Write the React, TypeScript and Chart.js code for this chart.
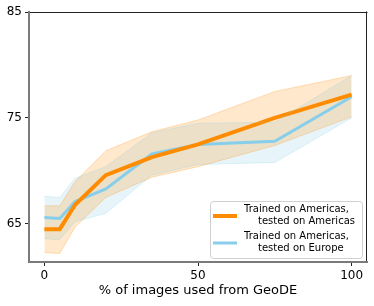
import React, { useEffect, useRef } from "react";
import { Chart, registerables } from "chart.js";

Chart.register(...registerables);

const xs = [0, 5, 10, 20, 35, 50, 75, 100];
const orangeMean = [64.5, 64.5, 66.8, 69.6, 71.3, 72.5, 75.0, 77.2];
const orangeUpper = [66.7, 66.7, 69.0, 71.9, 73.7, 74.8, 77.5, 79.0];
const orangeLower = [62.3, 62.2, 64.7, 67.5, 69.4, 70.4, 72.4, 75.1];
const blueMean = [65.6, 65.5, 67.1, 68.3, 71.6, 72.5, 72.8, 77.0];
const blueUpper = [67.6, 67.5, 69.3, 70.4, 73.6, 74.5, 74.6, 79.0];
const blueLower = [63.6, 63.5, 65.2, 66.0, 69.6, 70.6, 70.8, 75.0];
const xTicks = [0, 50, 100];
const yTicks = [65, 75, 85];
const legendLabels = [
  ["Trained on Americas,", "tested on Americas"],
  ["Trained on Americas,", "tested on Europe"],
];

const ORANGE = "#ff8c00";
const BLUE = "#87ceeb";
const FONT = "DejaVu Sans";

const pts = (ys: number[]) => xs.map((x, i) => ({ x, y: ys[i] }));

export default function App() {
  const ref = useRef<HTMLCanvasElement>(null);
  useEffect(() => {
    document.body.style.margin = "0";
    const spines = {
      id: "spines",
      afterDraw(chart: any) {
        const { ctx, chartArea: a } = chart;
        ctx.save();
        ctx.lineCap = "square";
        ctx.strokeStyle = "#222";
        ctx.lineWidth = 1;
        ctx.beginPath();
        ctx.moveTo(a.left, a.top + 0.5);
        ctx.lineTo(a.right, a.top + 0.5);
        ctx.moveTo(a.right - 0.5, a.top);
        ctx.lineTo(a.right - 0.5, a.bottom);
        ctx.stroke();
        ctx.strokeStyle = "#7a7a7a";
        ctx.lineWidth = 2;
        ctx.beginPath();
        ctx.moveTo(a.left, a.top);
        ctx.lineTo(a.left, a.bottom);
        ctx.lineTo(a.right, a.bottom);
        ctx.stroke();
        // legend
        const lx = 210, ly = 201, lw = 152, lh = 57;
        ctx.fillStyle = "rgba(255,255,255,0.85)";
        ctx.strokeStyle = "#d0d0d0";
        ctx.lineWidth = 1;
        ctx.beginPath();
        (ctx as any).roundRect(lx + 0.5, ly + 0.5, lw, lh, 3);
        ctx.fill();
        ctx.stroke();
        const entries = [
          { color: ORANGE, width: 4, lineY: 216, t1: [244, 209.5], t2: [258, 221.5] },
          { color: BLUE, width: 3, lineY: 243, t1: [244, 236.5], t2: [258, 248.5] },
        ];
        ctx.font = `10px ${FONT}`;
        ctx.textBaseline = "middle";
        ctx.textAlign = "left";
        entries.forEach((e, i) => {
          ctx.strokeStyle = e.color;
          ctx.lineWidth = e.width;
          ctx.lineCap = "butt";
          ctx.beginPath();
          ctx.moveTo(213, e.lineY);
          ctx.lineTo(237, e.lineY);
          ctx.stroke();
          ctx.fillStyle = "#000";
          ctx.fillText(legendLabels[i][0], e.t1[0], e.t1[1]);
          ctx.fillText(legendLabels[i][1], e.t2[0], e.t2[1]);
        });
        ctx.restore();
      },
    };
    const chart = new Chart(ref.current!, {
      type: "line",
      data: {
        datasets: [
          { data: pts(orangeUpper), borderColor: "rgba(255,140,0,0.25)", borderWidth: 1, pointRadius: 0, fill: false, tension: 0 },
          { data: pts(orangeLower), borderColor: "rgba(255,140,0,0.25)", borderWidth: 1, pointRadius: 0, fill: "-1", backgroundColor: "rgba(255,140,0,0.2)", tension: 0 },
          { data: pts(blueUpper), borderColor: "rgba(135,206,235,0.25)", borderWidth: 1, pointRadius: 0, fill: false, tension: 0 },
          { data: pts(blueLower), borderColor: "rgba(135,206,235,0.25)", borderWidth: 1, pointRadius: 0, fill: "-1", backgroundColor: "rgba(135,206,235,0.2)", tension: 0 },
          { data: pts(orangeMean), borderColor: ORANGE, borderWidth: 4, pointRadius: 0, fill: false, tension: 0 },
          { data: pts(blueMean), borderColor: BLUE, borderWidth: 3, pointRadius: 0, fill: false, tension: 0 },
        ],
      },
      options: {
        animation: false,
        responsive: false,
        layout: { padding: { left: 0, top: 12, right: 7, bottom: 8 } },
        plugins: {
          legend: { display: false },
          tooltip: { enabled: false },
          filler: { drawTime: "beforeDatasetsDraw" } as any,
        },
        scales: {
          x: {
            type: "linear",
            min: -5,
            max: 105,
            afterBuildTicks: (s: any) => { s.ticks = xTicks.map((v) => ({ value: v })); },
            afterFit: (s: any) => { s.height = 36; },
            grid: { drawOnChartArea: false, drawTicks: true, tickLength: 4, color: "#222" },
            border: { display: false },
            ticks: { color: "#000", font: { family: FONT, size: 12 }, padding: 3, maxRotation: 0 },
            title: { display: true, text: "% of images used from GeoDE", color: "#000", font: { family: FONT, size: 13 }, padding: { top: 2, bottom: 0 } },
          },
          y: {
            type: "linear",
            min: 61.4,
            max: 85,
            afterBuildTicks: (s: any) => { s.ticks = yTicks.map((v) => ({ value: v })); },
            afterFit: (s: any) => { s.width = 29; },
            grid: { drawOnChartArea: false, drawTicks: true, tickLength: 4, color: "#222" },
            border: { display: false },
            ticks: { color: "#000", font: { family: FONT, size: 12 }, padding: 3 },
          },
        },
      },
      plugins: [spines],
    });
    return () => chart.destroy();
  }, []);
  return <canvas ref={ref} width={374} height={306} style={{ display: "block" }} />;
}
